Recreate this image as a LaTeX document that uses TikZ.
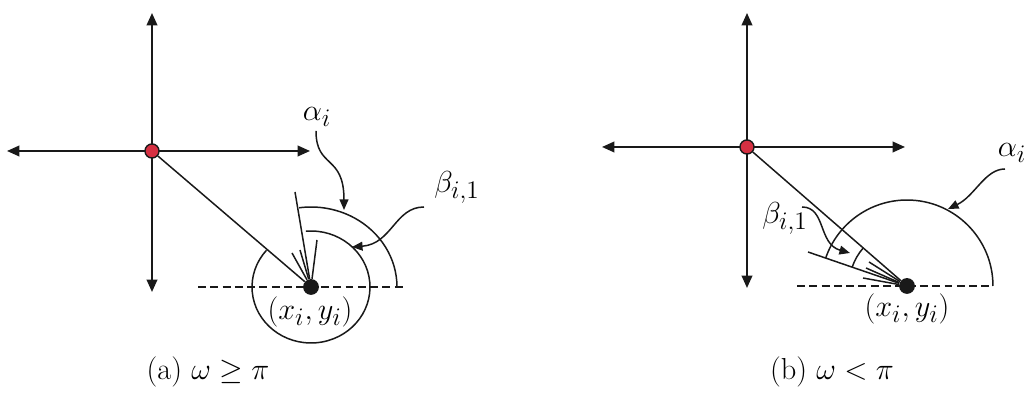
\documentclass[tikz,border=0pt]{standalone}
\usepackage{amsmath,amssymb}
\usetikzlibrary{arrows.meta}
\definecolor{redpt}{RGB}{214,48,66}
\definecolor{ink}{RGB}{25,25,25}
\begin{document}
\begin{tikzpicture}[x=0.02cm,y=0.02cm,
  axis/.style={draw=ink,line width=1.1pt,{Triangle[length=7pt,width=6pt]}-{Triangle[length=7pt,width=6pt]}},
  ray/.style={draw=ink,line width=0.85pt},
  arcline/.style={draw=ink,line width=0.85pt},
  dashline/.style={draw=ink,line width=0.85pt,dash pattern=on 4.5pt off 2.5pt},
  origin/.style={circle,fill=redpt,draw=ink,line width=0.8pt,inner sep=0pt,minimum size=8pt},
  pt/.style={circle,fill=ink,inner sep=0pt,minimum size=9pt},
  pointer/.style={draw=ink,line width=0.85pt,-{Triangle[length=6pt,width=5pt]}},
  lbl/.style={font=\fontsize{19}{22}\selectfont,inner sep=1pt},
  captext/.style={font=\LARGE,inner sep=1pt},
]
\useasboundingbox (0,0) rectangle (1032,394);

% ---------- panel (a) ----------
\coordinate (T1) at (152,381);
\coordinate (B1) at (152,102);
\coordinate (L1) at (7,243);
\coordinate (R1) at (310,243);
\draw[axis] (B1) -- (T1);
\draw[axis] (L1) -- (R1);
\coordinate (D1a) at (198,107);
\coordinate (D1b) at (405,107);
\draw[dashline] (D1a) -- (D1b);
\node[origin] (O1) at (152,243) {};
\node[pt] (P1) at (311,107) {};
\draw[ray] (O1) -- (P1);
\coordinate (r1) at (295,202);
\coordinate (s1a) at (292,141);
\coordinate (s1b) at (300,144);
\coordinate (s1c) at (317,154);
\draw[ray] (P1) -- (r1);
\draw[ray] (P1) -- (s1a);
\draw[ray] (P1) -- (s1b);
\draw[ray] (P1) -- (s1c);
\draw[arcline] ([shift={(0:1.72cm)}]P1.center) arc[start angle=0,end angle=98,x radius=1.72cm,y radius=1.6cm];
\draw[arcline] ([shift={(95:1.18cm and 1.12cm)}]P1.center) arc[start angle=95,end angle=-221,x radius=1.18cm,y radius=1.12cm];
\node[lbl] (al1) at (317,277) {$\alpha_i$};
\coordinate (al1s) at (316,263);
\coordinate (al1t) at (344,184);
\draw[pointer] (al1s) .. controls (316,225) and (344,240) .. (al1t);
\node[lbl] (be1) at (457,207) {$\beta_{i,1}$};
\coordinate (be1s) at (424,187);
\coordinate (be1t) at (352,147);
\draw[pointer] (be1s) .. controls (395,187) and (392,150) .. (be1t);
\node[lbl] (xy1) at (310,82) {$(x_i,y_i)$};
\node[captext] (capa) at (208,22) {(a) $\omega \geq \pi$};

% ---------- panel (b) ----------
\coordinate (T2) at (747,381);
\coordinate (B2) at (747,106);
\coordinate (L2) at (602,247);
\coordinate (R2) at (905,247);
\draw[axis] (B2) -- (T2);
\draw[axis] (L2) -- (R2);
\coordinate (D2a) at (797,108);
\coordinate (D2b) at (993,108);
\draw[dashline] (D2a) -- (D2b);
\node[origin] (O2) at (747,247) {};
\node[pt] (P2) at (907,108) {};
\draw[ray] (O2) -- (P2);
\coordinate (r2) at (808,142);
\coordinate (s2a) at (869,132);
\coordinate (s2b) at (866,126);
\coordinate (s2c) at (863,116);
\draw[ray] (P2) -- (r2);
\draw[ray] (P2) -- (s2a);
\draw[ray] (P2) -- (s2b);
\draw[ray] (P2) -- (s2c);
\draw[arcline] ([shift={(0:1.72cm)}]P2.center) arc[start angle=0,end angle=161,radius=1.72cm];
\draw[arcline] ([shift={(139:1.16cm)}]P2.center) arc[start angle=139,end angle=161,radius=1.16cm];
\node[lbl] (al2) at (1012,241) {$\alpha_i$};
\coordinate (al2s) at (1005,225);
\coordinate (al2t) at (948,185);
\draw[pointer] (al2s) .. controls (985,225) and (975,198) .. (al2t);
\node[lbl] (be2) at (785,176) {$\beta_{i,1}$};
\coordinate (be2s) at (802,187);
\coordinate (be2t) at (850,141);
\draw[pointer] (be2s) .. controls (826,187) and (818,150) .. (be2t);
\node[lbl] (xy2) at (907,85) {$(x_i,y_i)$};
\node[captext] (capb) at (832,22) {(b) $\omega < \pi$};
\end{tikzpicture}
\end{document}
